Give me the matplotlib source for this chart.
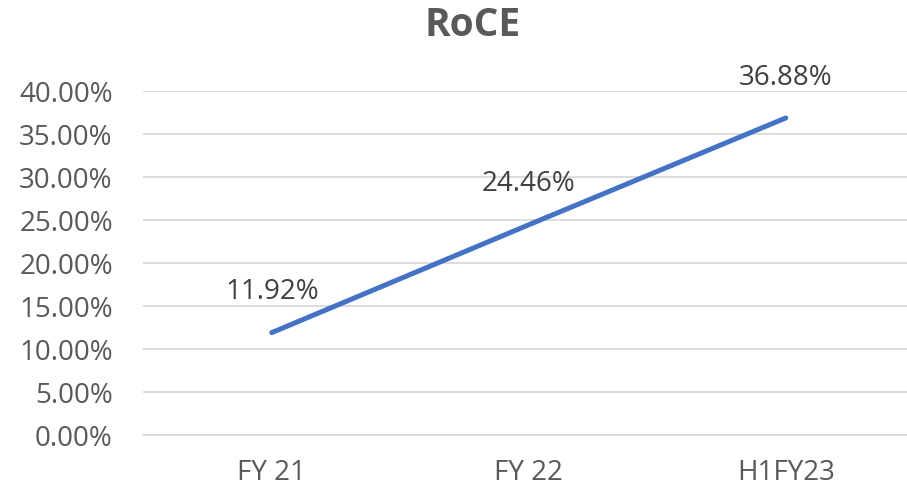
#! /usr/bin/env python3
import matplotlib
matplotlib.use("Agg")
import matplotlib.pyplot as plt
from matplotlib.ticker import FuncFormatter

# data
periods = ["FY 21", "FY 22", "H1FY23"]
roce = [0.1192, 0.2446, 0.3688]
y_ticks = [0.0, 0.05, 0.10, 0.15, 0.20, 0.25, 0.30, 0.35, 0.40]

plt.rcParams['font.family'] = ['Open Sans', 'DejaVu Sans']

fig = plt.figure(figsize=(9.07, 4.9), dpi=100)
ax = fig.add_axes([0.158, 0.112, 0.85, 0.702])

x = list(range(len(periods)))
ax.plot(x, roce, color="#4472C4", linewidth=3.6, solid_capstyle="round", zorder=3)

for xi, v in zip(x, roce):
    ax.annotate(f"{v*100:.2f}%", (xi, v), xytext=(0, 19), textcoords="offset points",
                ha="center", va="bottom", fontsize=20, color="#404040")

ax.set_xlim(-0.5, 2.5)
ax.set_ylim(0, 0.4)
ax.set_yticks(y_ticks)
ax.yaxis.set_major_formatter(FuncFormatter(lambda v, p: f"{v*100:.2f}%"))
ax.set_xticks(x, periods)
ax.grid(axis="y", color="#D9D9D9", linewidth=1.3)
ax.set_axisbelow(True)
for s in ["top", "right", "left"]:
    ax.spines[s].set_visible(False)
ax.spines["bottom"].set_color("#D9D9D9")
ax.spines["bottom"].set_linewidth(1.3)
ax.tick_params(axis="both", length=0, labelsize=20, colors="#595959")
ax.tick_params(axis="y", pad=22)
ax.tick_params(axis="x", pad=17)

fig.text(0.521, 0.947, "RoCE", ha="center", va="center", fontsize=28,
         fontweight="bold", color="#595959")

plt.savefig("out.png", dpi=100)
plt.close(fig)
